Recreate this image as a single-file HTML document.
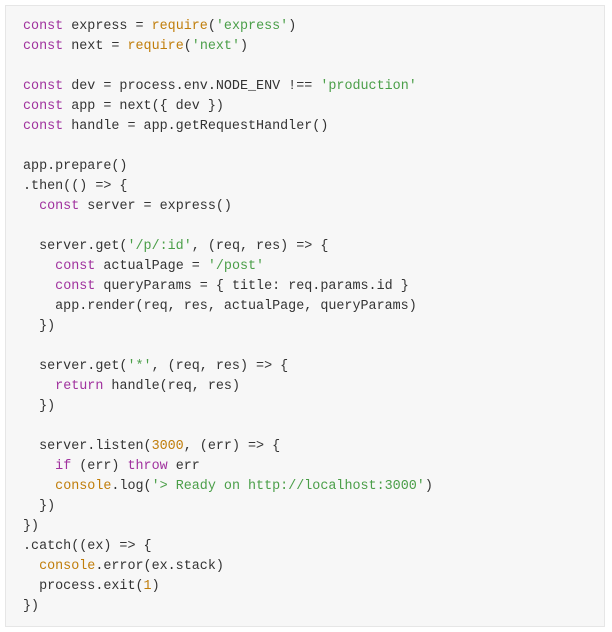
<!DOCTYPE html>
<html><head><style>
html,body{margin:0;padding:0;background:#fff;width:612px;height:632px;overflow:hidden}
.box{position:absolute;left:5px;top:5px;width:600px;height:622px;background:#f7f7f7;border:1px solid #e6e6e6;box-sizing:border-box}
pre{margin:0;position:absolute;left:17px;top:11px;font-family:"Liberation Mono",monospace;font-size:13.4px;line-height:20px;color:#333}
.k{color:#a0329e}.f{color:#c07d0a}.s{color:#4a9e48}
</style></head><body><div class="box"><pre><span class="k">const</span> express = <span class="f">require</span>(<span class="s">'express'</span>)
<span class="k">const</span> next = <span class="f">require</span>(<span class="s">'next'</span>)

<span class="k">const</span> dev = process.env.NODE_ENV !== <span class="s">'production'</span>
<span class="k">const</span> app = next({ dev })
<span class="k">const</span> handle = app.getRequestHandler()

app.prepare()
.then(() => {
  <span class="k">const</span> server = express()

  server.get(<span class="s">'/p/:id'</span>, (req, res) => {
    <span class="k">const</span> actualPage = <span class="s">'/post'</span>
    <span class="k">const</span> queryParams = { title: req.params.id }
    app.render(req, res, actualPage, queryParams)
  })

  server.get(<span class="s">'*'</span>, (req, res) => {
    <span class="k">return</span> handle(req, res)
  })

  server.listen(<span class="f">3000</span>, (err) => {
    <span class="k">if</span> (err) <span class="k">throw</span> err
    <span class="f">console</span>.log(<span class="s">'&gt; Ready on http://localhost:3000'</span>)
  })
})
.catch((ex) => {
  <span class="f">console</span>.error(ex.stack)
  process.exit(<span class="f">1</span>)
})</pre></div></body></html>
